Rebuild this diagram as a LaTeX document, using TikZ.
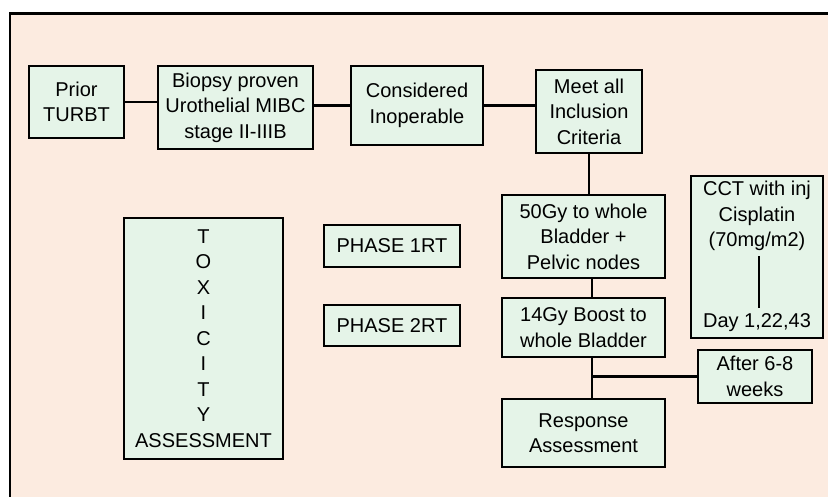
\documentclass[tikz,border=0pt]{standalone}
\usepackage{fontspec}
\setmainfont{Liberation Sans}
\definecolor{framefill}{RGB}{252,235,224}
\definecolor{boxfill}{RGB}{229,244,232}
\newcommand{\boxfont}[0]{\fontsize{20}{25.5}\selectfont}

\begin{document}
\begin{tikzpicture}[x=1pt, y=-1pt]
  \tikzset{flow box/.style={draw, line width=2.4pt, fill=boxfill, align=center,
      inner sep=0pt, font=\boxfont},
    link/.style={line width=2.4pt}}
  \useasboundingbox (0,0) rectangle (828,496);
  \clip (0,0) rectangle (828,496);
  \draw[line width=2.4pt, fill=framefill] (10,13.5) rectangle (840,510);
  % top row
  \node[flow box, minimum width=95pt, minimum height=72pt] (turbt) at (76.5,102) {Prior\\TURBT};
  \node[flow box, minimum width=155pt, minimum height=83pt] (biopsy) at (235.5,107.5) {Biopsy proven\\Urothelial MIBC\\stage II-IIIB};
  \node[flow box, minimum width=132pt, minimum height=79pt] (inoperable) at (417,105.5) {Considered\\Inoperable};
  \node[flow box, minimum width=106pt, minimum height=83pt] (inclusion) at (589,111.5) {Meet all\\Inclusion\\Criteria};
  % radiotherapy column
  \node[flow box, minimum width=163pt, minimum height=83pt] (RT-1) at (583.5,236.5) {50Gy to whole\\Bladder +\\Pelvic nodes};
  \node[flow box, minimum width=163pt, minimum height=59pt] (RT-2) at (583.5,327.5) {14Gy Boost to\\whole Bladder};
  \node[flow box, minimum width=163pt, minimum height=68pt] (response) at (583.5,433) {Response\\Assessment};
  \node[flow box, minimum width=114pt, minimum height=53pt] (weeks) at (755,376.5) {After 6-8\\weeks};
  % chemotherapy
  \node[flow box, minimum width=132pt, minimum height=162pt] (cct) at (757,257) {};
  \node[align=center, font=\boxfont, inner sep=1pt, anchor=north] (cct-drug) at (757,180) {CCT with inj\\Cisplatin\\(70mg/m2)};
  \node[font=\boxfont, inner sep=1pt, anchor=south] (cct-day) at (757,333) {Day 1,22,43};
  % left side
  \node[flow box, minimum width=159pt, minimum height=241pt] (toxicity) at (203.5,338.5) {T\\O\\X\\I\\C\\I\\T\\Y\\ASSESSMENT};
  \node[flow box, minimum width=136pt, minimum height=42pt] (phase-1) at (392,246) {PHASE 1RT};
  \node[flow box, minimum width=136pt, minimum height=41pt] (phase-2) at (392,325.5) {PHASE 2RT};
  % connectors
  \draw[link] (turbt.east) -- (turbt.east -| biopsy.west);
  \draw[link] (inoperable.west -| biopsy.east) -- (inoperable.west);
  \draw[link] (inoperable.east) -- (inoperable.east -| inclusion.west);
  \draw[link] (inclusion.south) -- (inclusion.south |- RT-1.north);
  \draw[link] ([xshift=8.5pt]RT-1.south) -- ([xshift=8.5pt]RT-2.north);
  \draw[link] ([xshift=8.5pt]RT-2.south) -- ([xshift=8.5pt]response.north);
  \coordinate (split) at ([xshift=8.5pt]RT-2.south |- weeks.west);
  \draw[link] (split) -- (weeks.west);
  \draw[link] ([xshift=2pt,yshift=-4pt]cct-drug.south) -- ([xshift=2pt,yshift=4pt]cct-day.north);
\end{tikzpicture}
\end{document}
